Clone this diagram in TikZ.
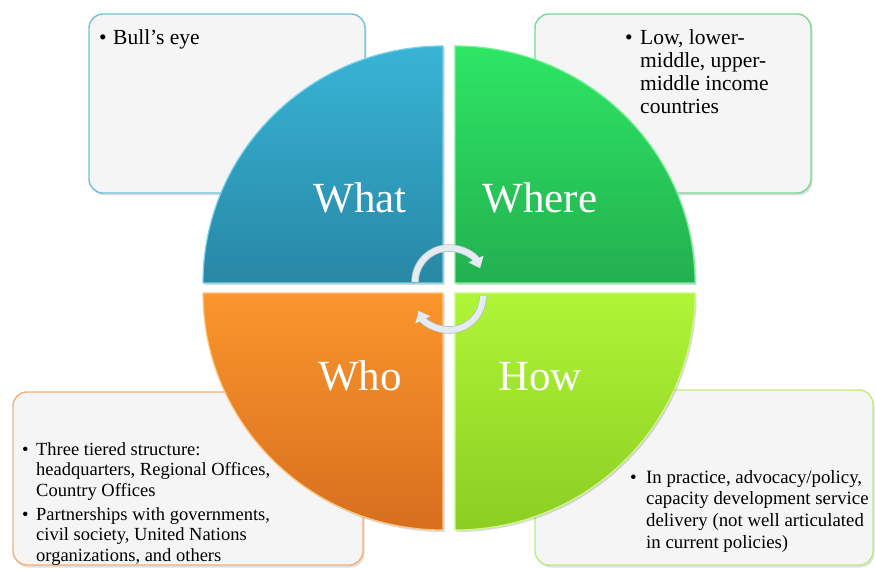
\documentclass[tikz,border=0pt]{standalone}
\usepackage{fontspec}
\setmainfont{Liberation Serif}
\usepackage{tikz}
\usepackage{xcolor}
\usetikzlibrary{shadows,arrows.meta}

\definecolor{cardgray}{RGB}{245,245,245}
\definecolor{whatline}{RGB}{110,195,218}
\definecolor{whereline}{RGB}{120,215,150}
\definecolor{wholine}{RGB}{245,175,120}
\definecolor{howline}{RGB}{195,235,130}
\definecolor{whattop}{RGB}{56,180,214}
\definecolor{whatbot}{RGB}{40,135,165}
\definecolor{whatrim}{RGB}{120,210,235}
\definecolor{wheretop}{RGB}{46,230,100}
\definecolor{wherebot}{RGB}{35,175,80}
\definecolor{whererim}{RGB}{120,240,150}
\definecolor{whotop}{RGB}{250,150,45}
\definecolor{whobot}{RGB}{215,110,30}
\definecolor{whorim}{RGB}{252,200,130}
\definecolor{howtop}{RGB}{175,245,55}
\definecolor{howbot}{RGB}{140,205,35}
\definecolor{howrim}{RGB}{205,250,130}
\definecolor{arrowgray}{RGB}{228,236,241}
\definecolor{arrowedge}{RGB}{175,190,200}

\newcommand{\bul}[1]{\hangindent=#1\hangafter=1\noindent\makebox[#1][l]{\textbullet}}

\tikzset{
  card/.style={rounded corners=14pt, fill=cardgray, line width=1.4pt,
    drop shadow={opacity=0.25, shadow xshift=1.5pt, shadow yshift=-2.5pt}},
  quad/.style={line width=1.2pt,
    drop shadow={opacity=0.3, shadow xshift=1.5pt, shadow yshift=-2pt}},
  bigword/.style={text=white, font=\fontsize{43}{43}\selectfont, inner sep=0pt, anchor=base},
  cardtext/.style={anchor=base west, inner sep=0pt, text=black},
  turn/.style={line width=6pt, draw=arrowgray, -{Triangle[length=10pt,width=16pt]},
    preaction={draw=arrowedge, line width=7.5pt, arrows=-, shorten >=9pt}}
}

\begin{document}
\begin{tikzpicture}[x=1pt,y=1pt]
  \useasboundingbox (0,0) rectangle (875,568);
  % cards
  \draw[card, draw=whatline](89,375) rectangle (365,554);
  \draw[card, draw=whereline](535,375) rectangle (811,554);
  \draw[card, draw=wholine](13,3) rectangle (363,176);
  \draw[card, draw=howline](535,3) rectangle (873,178);
  % card texts
  \node[cardtext] at(99,523)(bullseye){\parbox[t]{240pt}{\fontsize{21.5}{23}\selectfont\raggedright
    \bul{14pt}Bull's eye}};
  \node[cardtext] at(625,523)(income){\parbox[t]{180pt}{\fontsize{21.5}{23}\selectfont\raggedright
    \bul{15pt}Low, lower-\newline middle, upper-\newline middle income\newline countries}};
  \node[cardtext] at(22,113)(tiers){\parbox[t]{330pt}{\fontsize{18.5}{20.7}\selectfont\raggedright\parskip=3pt
    \bul{14pt}Three tiered structure:\newline headquarters, Regional Offices,\newline Country Offices\par
    \bul{14pt}Partnerships with governments,\newline civil society, United Nations\newline organizations, and others}};
  \node[cardtext] at(630,85)(practice){\parbox[t]{240pt}{\fontsize{18.8}{21.7}\selectfont\raggedright
    \bul{16pt}In practice, advocacy/policy,\newline capacity development service\newline delivery (not well articulated\newline in current policies)}};
  % quadrants
  \draw[quad, draw=whatrim, top color=whattop, bottom color=whatbot]
    (443,285) -- (203,285) arc[start angle=180, end angle=90, x radius=240, y radius=237] -- cycle;
  \draw[quad, draw=whererim, top color=wheretop, bottom color=wherebot]
    (455,285) -- (455,522) arc[start angle=90, end angle=0, x radius=240, y radius=237] -- cycle;
  \draw[quad, draw=whorim, top color=whotop, bottom color=whobot]
    (443,275) -- (203,275) arc[start angle=180, end angle=270, x radius=240, y radius=237] -- cycle;
  \draw[quad, draw=howrim, top color=howtop, bottom color=howbot]
    (455,275) -- (455,38) arc[start angle=270, end angle=360, x radius=240, y radius=237] -- cycle;
  % quadrant words
  \node[bigword] at(360,355)(what){What};
  \node[bigword] at(540,355)(where){Where};
  \node[bigword] at(360,178)(who){Who};
  \node[bigword] at(540,178)(how){How};
  % turning arrows
  \coordinate (upperhub) at (449,286);
  \coordinate (lowerhub) at (449,272);
  \draw[turn]([shift={(180:34)}]upperhub) arc[start angle=180, end angle=24, radius=34];
  \draw[turn]([shift={(0:34)}]lowerhub) arc[start angle=0, end angle=-154, radius=34];
\end{tikzpicture}
\end{document}
